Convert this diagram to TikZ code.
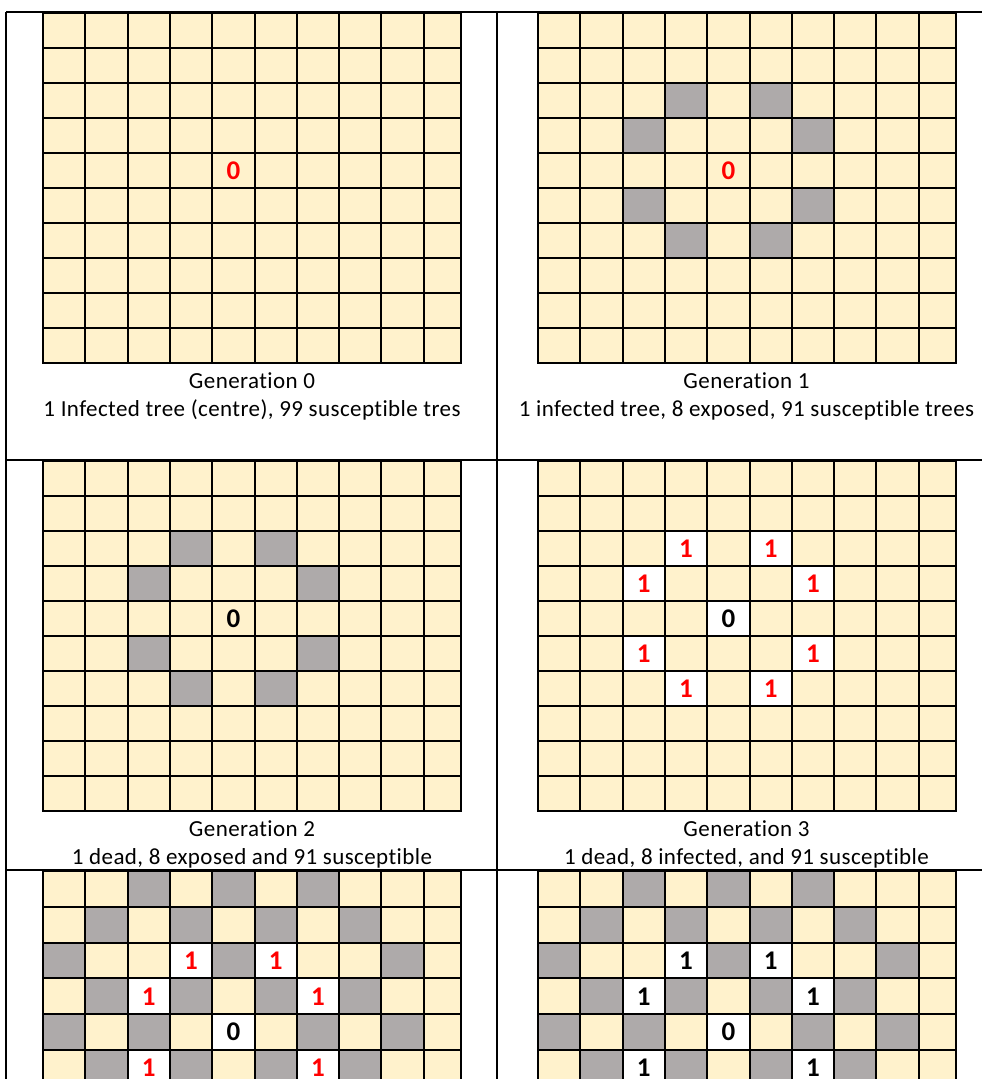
\documentclass[tikz,border=0pt]{standalone}
\usepackage{fontspec}
\setmainfont{Carlito}[Ligatures=NoCommon,LetterSpace=1.8]
\definecolor{treecream}{RGB}{255,242,204}
\definecolor{exposedgray}{RGB}{174,170,170}
\definecolor{infectred}{RGB}{255,0,0}
\tikzset{
  rule/.style={line width=2pt},
  forest/.style={line width=2pt},
  tally/.style={font=\fontsize{27}{30}\selectfont\bfseries},
  caption/.style={font=\fontsize{23}{28}\selectfont,anchor=base,inner sep=0pt},
}
% knight-move ring round the centre tree, and the wider ring of generation 4
\newcommand{\ringcells}{3/2,5/2,2/3,6/3,2/5,6/5,3/6,5/6}
\newcommand{\ringtop}{3/2,5/2,2/3,6/3,2/5,6/5}
\newcommand{\spreadcells}{2/0,4/0,6/0,1/1,3/1,5/1,7/1,0/2,4/2,8/2,1/3,3/3,5/3,7/3,0/4,2/4,6/4,8/4,1/5,3/5,5/5,7/5}
\newcommand{\forestlines}{%
  \foreach \cx in {1,...,9} \draw[forest] (\cx,0) -- (\cx,10);
  \foreach \cy in {1,...,9} \draw[forest] (0,\cy) -- (9.88,\cy);
  \draw[forest] (0,0) rectangle (9.88,10);
}
\begin{document}
\begin{tikzpicture}[x=1pt,y=-1pt]
\useasboundingbox (0,0) rectangle (982,1079);
\clip (0,0) rectangle (982,1079);
% Generation 0
\begin{scope}[xshift=43pt,yshift=-13pt,x=42.3pt,y=-35pt]
\fill[treecream] (0,0) rectangle (9.88,10);
\forestlines
\node[tally,infectred] (g0c) at (4.5,4.5) {0};
\end{scope}
% Generation 1
\begin{scope}[xshift=538pt,yshift=-13pt,x=42.3pt,y=-35pt]
\fill[treecream] (0,0) rectangle (9.88,10);
\foreach \cx/\cy in \ringcells \fill[exposedgray] (\cx,\cy) rectangle +(1,1);
\forestlines
\node[tally,infectred] (g1c) at (4.5,4.5) {0};
\end{scope}
% Generation 2
\begin{scope}[xshift=43pt,yshift=-461pt,x=42.3pt,y=-35pt]
\fill[treecream] (0,0) rectangle (9.88,10);
\foreach \cx/\cy in \ringcells \fill[exposedgray] (\cx,\cy) rectangle +(1,1);
\forestlines
\node[tally] (g2c) at (4.5,4.5) {0};
\end{scope}
% Generation 3
\begin{scope}[xshift=538pt,yshift=-461pt,x=42.3pt,y=-35pt]
\fill[treecream] (0,0) rectangle (9.88,10);
\fill[white] (4,4) rectangle +(1,1);
\foreach \cx/\cy in \ringcells \fill[white] (\cx,\cy) rectangle +(1,1);
\forestlines
\node[tally] (g3c) at (4.5,4.5) {0};
\foreach \cx/\cy [count=\i] in \ringcells
  \node[tally,infectred] (g3k\i) at (\cx+0.5,\cy+0.5) {1};
\end{scope}
% Generation 4
\begin{scope}[xshift=43pt,yshift=-871pt,x=42.3pt,y=-35.8pt]
\fill[treecream] (0,0) rectangle (9.88,10);
\foreach \cx/\cy in \spreadcells \fill[exposedgray] (\cx,\cy) rectangle +(1,1);
\fill[white] (4,4) rectangle +(1,1);
\foreach \cx/\cy in \ringtop \fill[white] (\cx,\cy) rectangle +(1,1);
\forestlines
\node[tally] (g4c) at (4.5,4.5) {0};
\foreach \cx/\cy [count=\i] in \ringtop
  \node[tally,infectred] (g4k\i) at (\cx+0.5,\cy+0.5) {1};
\end{scope}
% Generation 5
\begin{scope}[xshift=538pt,yshift=-871pt,x=42.3pt,y=-35.8pt]
\fill[treecream] (0,0) rectangle (9.88,10);
\foreach \cx/\cy in \spreadcells \fill[exposedgray] (\cx,\cy) rectangle +(1,1);
\fill[white] (4,4) rectangle +(1,1);
\foreach \cx/\cy in \ringtop \fill[white] (\cx,\cy) rectangle +(1,1);
\forestlines
\node[tally] (g5c) at (4.5,4.5) {0};
\foreach \cx/\cy [count=\i] in \ringtop
  \node[tally] (g5k\i) at (\cx+0.5,\cy+0.5) {1};
\end{scope}
% table rules
\draw[rule] (6,12) -- (996,12);
\draw[rule] (6,460) -- (996,460);
\draw[rule] (6,870) -- (996,870);
\draw[rule] (6,12) -- (6,1090);
\draw[rule] (497,12) -- (497,1090);
\draw[rule] (996,12) -- (996,1090);
% captions
\node[caption] (cap0a) at (252,388) {Generation 0};
\node[caption] (cap0b) at (252,416) {1 Infected tree (centre), 99 susceptible tres};
\node[caption] (cap1a) at (746.5,388) {Generation 1};
\node[caption] (cap1b) at (746.5,416) {1 infected tree, 8 exposed, 91 susceptible trees};
\node[caption] (cap2a) at (252,836) {Generation 2};
\node[caption] (cap2b) at (252,864) {1 dead, 8 exposed and 91 susceptible};
\node[caption] (cap3a) at (746.5,836) {Generation 3};
\node[caption] (cap3b) at (746.5,864) {1 dead, 8 infected, and 91 susceptible};
\end{tikzpicture}
\end{document}
